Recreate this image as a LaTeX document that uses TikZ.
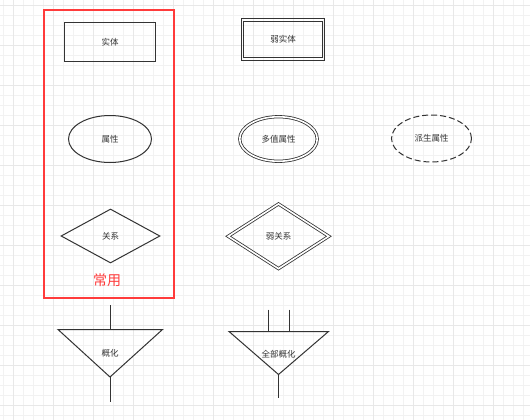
\documentclass[tikz,border=0pt]{standalone}
\usepackage{fontspec}
\newfontfamily\cjk{Noto Sans CJK SC}
\usepackage{tikz}
\usetikzlibrary{shapes.geometric,positioning}
\definecolor{framered}{HTML}{FF3B3B}
\definecolor{inkgray}{HTML}{333333}
\tikzset{
	x=1pt,
	y=-1pt,
	minorgrid/.style={line width=0.6pt, color=black!5},
	majorgrid/.style={line width=0.6pt, color=black!9},
	every node/.style={
		font=\cjk\fontsize{8.5}{10}\selectfont,
		text=inkgray
	}
}

\begin{document}
\begin{tikzpicture}
  \tikzset{
    ink/.style={line width=1pt, color=inkgray},
    twin/.style={double=white, double distance=1.6pt, line width=0.8pt},
    entity/.style={ink, rectangle, inner sep=0pt},
    attr/.style={ink, ellipse, inner sep=0pt},
    rel/.style={ink, diamond, inner sep=0pt}
  }

  \useasboundingbox (0,0) rectangle (530,420);
  \fill[white] (0,0) rectangle (530,420);

  % grid
  \foreach \gx in {3,13,...,523} \draw[minorgrid] (\gx,0) -- (\gx,420);
  \foreach \gy in {5,15,...,415} \draw[minorgrid] (0,\gy) -- (530,\gy);
  \foreach \gx in {13,53,...,493} \draw[majorgrid] (\gx,0) -- (\gx,420);
  \foreach \gy in {5,45,...,405} \draw[majorgrid] (0,\gy) -- (530,\gy);

  % common symbols
  \node[draw=framered, line width=2pt, minimum width=130pt, minimum height=288pt]
        (common) at (109,154) {};

  \node[entity, draw, minimum width=91pt, minimum height=39pt] (ent) at (110,42.5) {实体};
  \node[attr, draw, minimum width=83pt, minimum height=47pt] (att) at (110,139) {属性};
  \node[rel, draw, minimum width=99pt, minimum height=54pt] (rel) at (110.5,236) {关系};
  \node[text=framered, font=\cjk\fontsize{14}{16}\selectfont] (usual) at (107,280) {常用};

  % weak / special
  \node[entity, draw, line width=0.8pt, minimum width=83.5pt, minimum height=41.5pt]
        (weakent) at (283,39.3) {弱实体};
  \node[entity, draw, line width=0.8pt, minimum width=78.5pt, minimum height=36.5pt]
        (weakent-in) at (weakent) {};
  \node[attr, draw, twin, minimum width=77.5pt, minimum height=44.5pt] (multi) at (278.5,139) {多值属性};
  \node[attr, draw, dashed, dash pattern=on 6pt off 3pt, minimum width=80pt, minimum height=47pt]
        (derived) at (431.5,138.5) {派生属性};
  \node[rel, draw, twin, minimum width=101pt, minimum height=65pt] (weakrel) at (278.5,236.3) {弱关系};

  % generalisation
  \coordinate (gen-l) at (58,329.5);
  \coordinate (gen-r) at (162.5,329.5);
  \coordinate (gen-b) at (110,377);
  \coordinate (gen-t) at (110,329.5);
  \coordinate (gen-up) at (110,305);
  \coordinate (gen-down) at (110,401.5);
  \draw[ink, line join=miter] (gen-l) -- (gen-r) -- (gen-b) -- cycle;
  \node (gen) at (110,353.5) {概化};
  \draw[ink] (gen-up) -- (gen-t);
  \draw[ink] (gen-b) -- (gen-down);

  \coordinate (full-l) at (229,331.5);
  \coordinate (full-r) at (328.5,331.5);
  \coordinate (full-b) at (278.5,374.5);
  \coordinate (full-t1) at (268.5,331.5);
  \coordinate (full-t2) at (289,331.5);
  \coordinate (full-up1) at (268.5,309.5);
  \coordinate (full-up2) at (289,309.5);
  \coordinate (full-down) at (278.5,397.5);
  \draw[ink, line join=miter] (full-l) -- (full-r) -- (full-b) -- cycle;
  \node (full) at (278.5,354) {全部概化};
  \draw[ink] (full-up1) -- (full-t1);
  \draw[ink] (full-up2) -- (full-t2);
  \draw[ink] (full-b) -- (full-down);
\end{tikzpicture}
\end{document}
